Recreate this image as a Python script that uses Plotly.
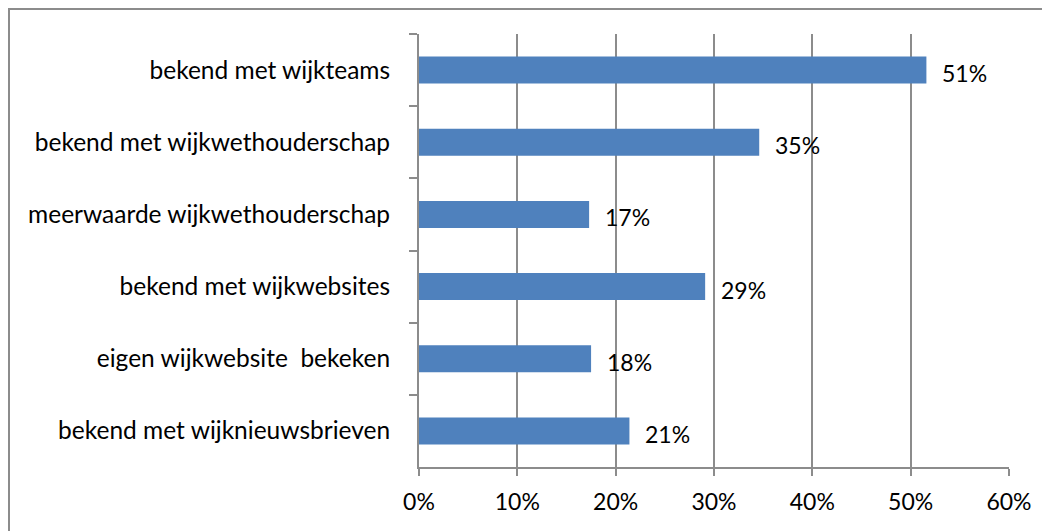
import plotly.graph_objects as go

categories = [
    "bekend met wijkteams",
    "bekend met wijkwethouderschap",
    "meerwaarde wijkwethouderschap",
    "bekend met wijkwebsites",
    "eigen wijkwebsite  bekeken",
    "bekend met wijknieuwsbrieven",
]
values = [51.6, 34.6, 17.3, 29.1, 17.5, 21.4]
value_labels = ["51%", "35%", "17%", "29%", "18%", "21%"]
x_ticks = [0, 10, 20, 30, 40, 50, 60]
x_tick_labels = ["0%", "10%", "20%", "30%", "40%", "50%", "60%"]

FONT = "Lato"
FS = 23
GRAY = "#8c8c8c"

# page body has an 8px margin; figure sized to fit the 1050x531 window
L, T = 411, 26
PW, PH = 590, 433

fig = go.Figure()
fig.add_trace(go.Bar(
    y=categories, x=values, orientation="h",
    marker=dict(color="#4F81BD", line=dict(width=0)),
    hoverinfo="skip",
))

for c, v, lab in zip(categories, values, value_labels):
    fig.add_annotation(x=v, y=c, text=lab, showarrow=False, xanchor="left",
                       xshift=14, yshift=-3,
                       font=dict(family=FONT, size=FS, color="#000"))

# chart outer border (top and left edges visible, others run off-page)
fig.add_shape(type="rect", xref="paper", yref="paper",
              x0=(1 - L) / PW, x1=1.2, y0=-0.3, y1=(PH + T - 1) / PH,
              line=dict(color=GRAY, width=2), fillcolor="rgba(0,0,0,0)", layer="below")

fig.update_layout(
    width=1042, height=523,
    margin=dict(l=L, r=1042 - L - PW, t=T, b=523 - T - PH),
    paper_bgcolor="white", plot_bgcolor="white",
    showlegend=False, bargap=0.625,
    font=dict(family=FONT, size=FS, color="#000"),
    xaxis=dict(range=[0, 60], tickvals=x_ticks, ticktext=x_tick_labels,
               showgrid=True, gridcolor=GRAY, gridwidth=1.5,
               showline=True, linecolor=GRAY, linewidth=2,
               ticks="outside", ticklen=7, tickcolor=GRAY, tickwidth=2,
               ticklabelstandoff=6, zeroline=False, fixedrange=True),
    yaxis=dict(categoryorder="array", categoryarray=categories, autorange="reversed",
               showgrid=False, showline=True, linecolor=GRAY, linewidth=2,
               ticks="outside", ticklen=8, tickcolor=GRAY, tickwidth=2,
               tickson="boundaries", ticklabelstandoff=22, fixedrange=True,
               tickfont=dict(family=FONT, size=24.5, color="#000")),
)

fig.write_html("out.html")
